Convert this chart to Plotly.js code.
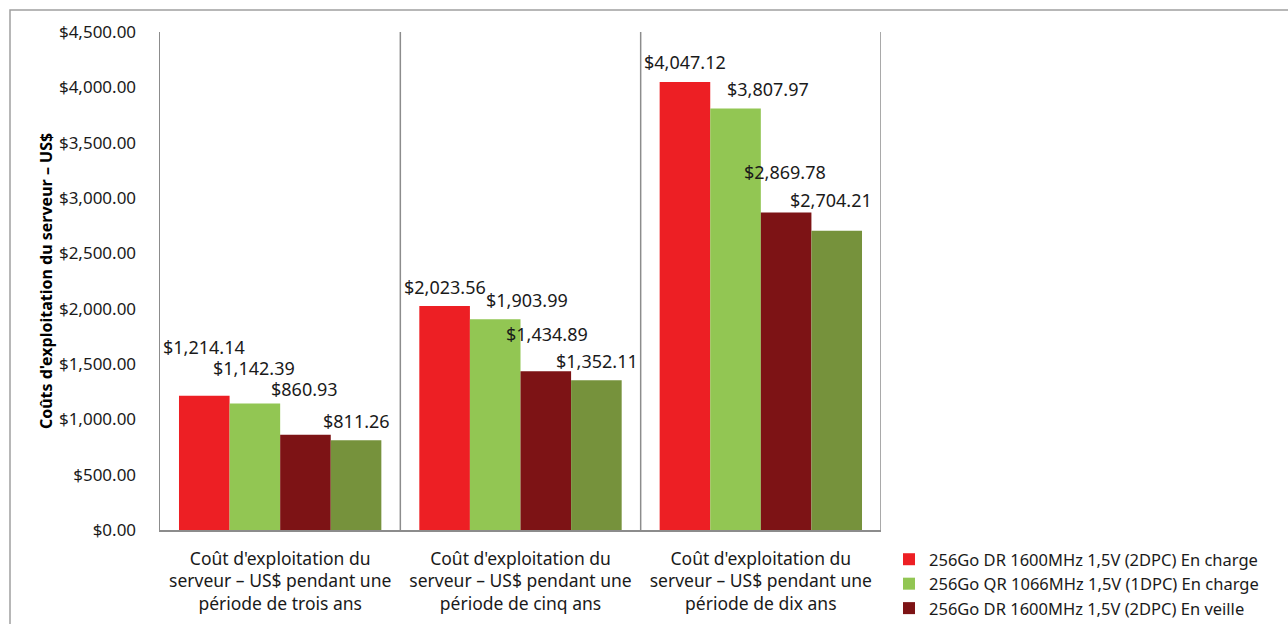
<!DOCTYPE html>
<html>
<head>
<meta charset="utf-8">
<script src="https://cdn.plot.ly/plotly-3.0.1.min.js"></script>
<style>html,body{margin:0;padding:0;background:#fff;}#chart{width:1288px;height:624px;}</style>
</head>
<body>
<div id="chart"></div>
<script>
// ---- data ----
const categories = [
  "Coût d'exploitation du<br>serveur – US$ pendant une<br>période de trois ans",
  "Coût d'exploitation du<br>serveur – US$ pendant une<br>période de cinq ans",
  "Coût d'exploitation du<br>serveur – US$ pendant une<br>période de dix ans"
];
const seriesNames = [
  "256Go DR 1600MHz 1,5V (2DPC) En charge",
  "256Go QR 1066MHz 1,5V (1DPC) En charge",
  "256Go DR 1600MHz 1,5V (2DPC) En veille",
  "256Go QR 1066MHz 1,5V (1DPC) En veille"
];
const drCharge = [1214.14, 2023.56, 4047.12];
const qrCharge = [1142.39, 1903.99, 3807.97];
const drVeille = [860.93, 1434.89, 2869.78];
const qrVeille = [811.26, 1352.11, 2704.21];
const seriesValues = [drCharge, qrCharge, drVeille, qrVeille];
const yTickVals = [0, 500, 1000, 1500, 2000, 2500, 3000, 3500, 4000, 4500];

// ---- style ----
const colors = ["#ED1F24", "#92C653", "#7D1315", "#76923C"];
const legendShown = [true, true, true, false]; // 4th entry falls outside the picture
const FONT = "Noto Sans, Open Sans, sans-serif";
// label nudges (px) per [category][series]
const labelDx = [[0, -1, -1, 0], [0, 32, 1, 1], [0, 32, -1, -6]];
const labelLift = [[49, 36, 46, 19], [19, 19, 37, 19], [20, 20, 40, 31]];

const bargap = 0.158;
const barW = (1 - bargap) / seriesValues.length;

const traces = seriesValues.map((vals, i) => ({
  type: 'bar',
  name: seriesNames[i],
  x: [0, 1, 2],
  y: vals,
  showlegend: legendShown[i],
  marker: {color: colors[i], line: {width: 0}},
  hoverinfo: 'skip'
}));

const fmt = v => '$' + v.toLocaleString('en-US', {minimumFractionDigits: 2, maximumFractionDigits: 2});

const annotations = [];
seriesValues.forEach((vals, i) => {
  vals.forEach((v, c) => {
    annotations.push({
      x: c + (i - (seriesValues.length - 1) / 2) * barW,
      y: v,
      xref: 'x', yref: 'y',
      text: fmt(v),
      showarrow: false,
      xanchor: 'center', yanchor: 'middle',
      xshift: labelDx[c][i],
      yshift: labelLift[c][i],
      font: {family: FONT, size: 18, color: '#1a1a1a'}
    });
  });
});

// paper conversion helpers for the frame
const L = 160, R = 881, T = 32, B = 530;
const px = X => (X - L) / (R - L);
const py = Y => (B - Y) / (B - T);

const layout = {
  width: 1288, height: 624,
  margin: {l: L, r: 1288 - R, t: T, b: 624 - B, autoexpand: false},
  paper_bgcolor: '#fff', plot_bgcolor: '#fff',
  barmode: 'group', bargap: bargap, bargroupgap: 0,
  font: {family: FONT, size: 17, color: '#1a1a1a'},
  showlegend: true,
  legend: {
    x: px(889), y: py(542), xanchor: 'left', yanchor: 'top',
    xref: 'paper', yref: 'paper',
    font: {family: FONT, size: 16.5, color: '#1a1a1a'},
    bgcolor: 'rgba(0,0,0,0)', borderwidth: 0,
    tracegroupgap: 0
  },
  xaxis: {
    type: 'linear',
    range: [-0.5, 2.5],
    tickvals: [0, 1, 2],
    ticktext: categories,
    ticks: '',
    showline: true, linecolor: '#8c8c8c', linewidth: 1.5,
    showgrid: false, zeroline: false,
    tickfont: {family: FONT, size: 17.5, color: '#1a1a1a'},
    ticklabelstandoff: 12,
    fixedrange: true
  },
  yaxis: {
    range: [0, 4500],
    tickvals: yTickVals,
    tickformat: '$,.2f',
    ticks: '',
    showline: true, linecolor: '#8c8c8c', linewidth: 1.5,
    showgrid: false, zeroline: false,
    tickfont: {family: FONT, size: 17, color: '#1a1a1a'},
    ticklabelstandoff: 19,
    title: {text: "Coûts d'exploitation du serveur – US$", font: {family: FONT, size: 16, color: '#000', weight: 'bold'}, standoff: 2},
    fixedrange: true
  },
  annotations: annotations,
  shapes: [
    // category separators at the boundaries between groups
    ...[0.5, 1.5, 2.5].map(b => ({
      type: 'line', xref: 'x', yref: 'paper', x0: b, x1: b, y0: 0, y1: 1,
      line: {color: '#8c8c8c', width: 1.5}, layer: 'below'
    })),
    // outer chart frame
    {type: 'rect', xref: 'paper', yref: 'paper', x0: px(10), x1: px(1310), y0: py(10), y1: py(700),
     line: {color: '#a0a0a0', width: 1.5}, fillcolor: 'rgba(0,0,0,0)', layer: 'below'}
  ]
};

Plotly.newPlot('chart', traces, layout, {displayModeBar: false, staticPlot: true});
</script>
</body>
</html>
